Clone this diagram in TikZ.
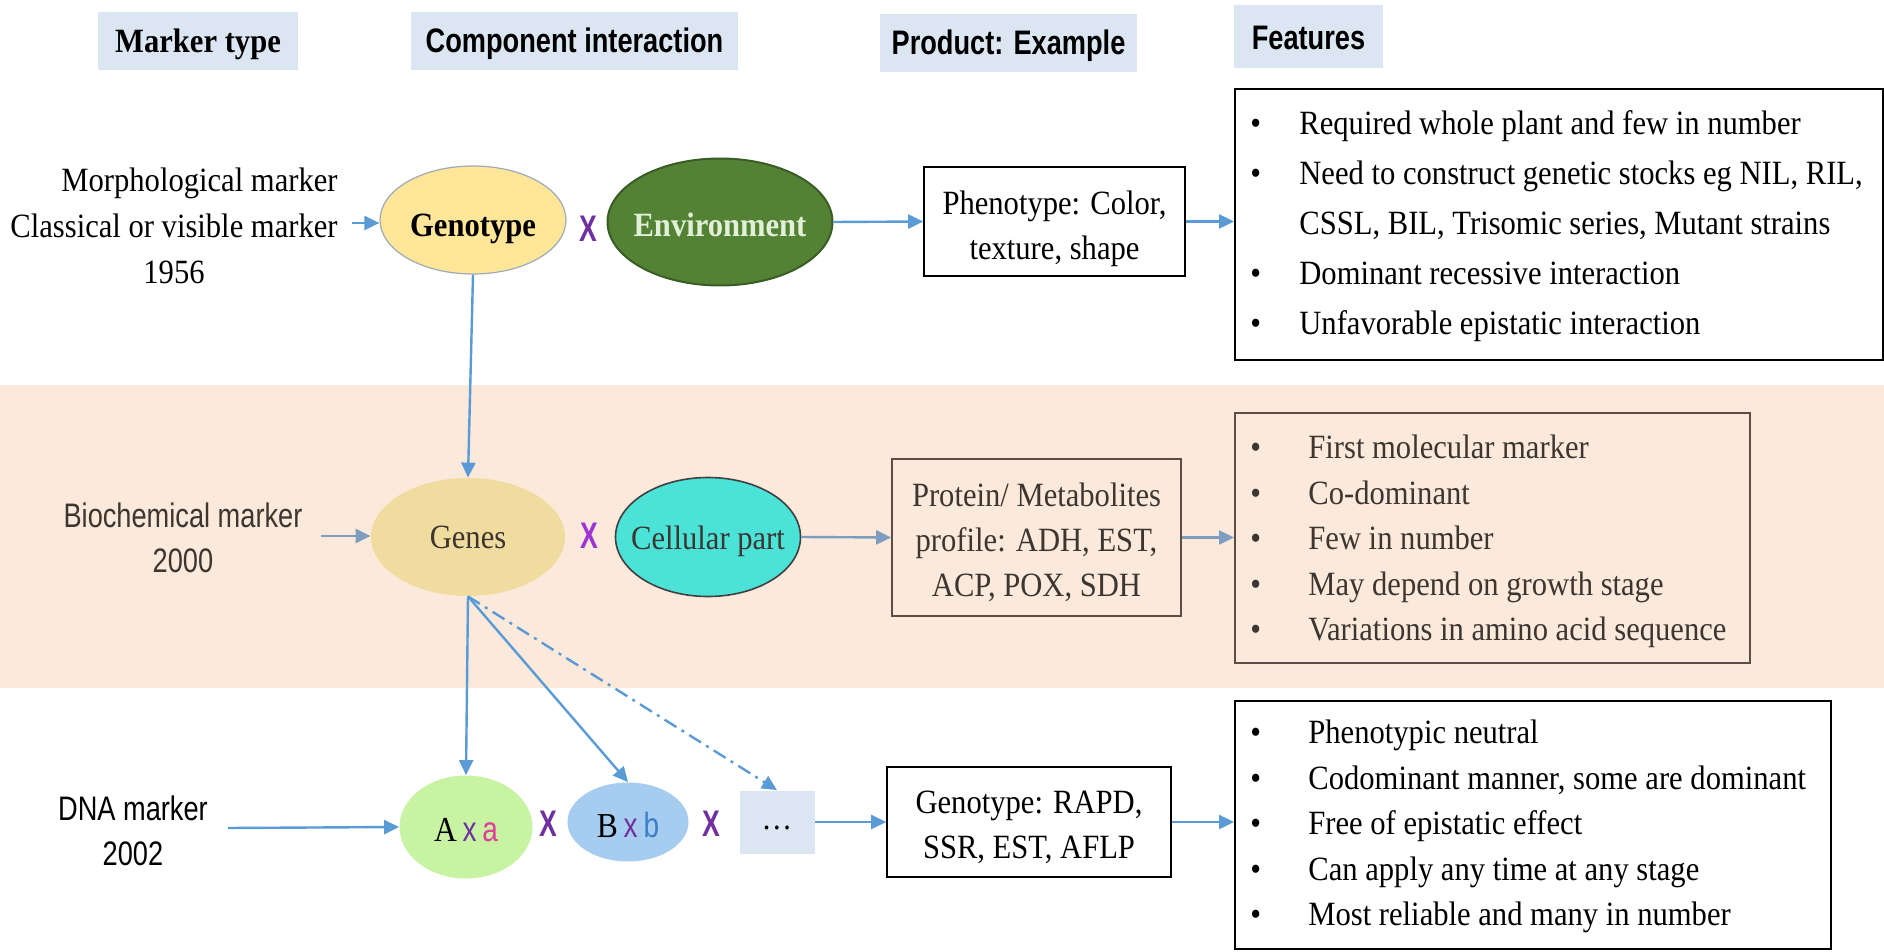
\documentclass[tikz,border=0pt]{standalone}
\usepackage{fontspec}
\setmainfont{Liberation Serif}[FakeStretch=0.9]
\newfontfamily\sansf{Liberation Sans}[FakeStretch=0.8]
\newfontfamily\xsans{Liberation Sans}[FakeStretch=0.72]
\usetikzlibrary{shapes.geometric,arrows.meta}
\definecolor{hdrblue}{HTML}{DCE6F2}
\definecolor{bandc}{HTML}{FBE9DB}
\definecolor{arrblue}{HTML}{5B9BD5}
\definecolor{arrgray}{HTML}{7F9DBF}
\definecolor{genoY}{HTML}{FFE699}
\definecolor{genoB}{HTML}{9DAAB8}
\definecolor{envG}{HTML}{548235}
\definecolor{envD}{HTML}{3A5C25}
\definecolor{envT}{HTML}{E2F0D9}
\definecolor{genesY}{HTML}{F0DC9E}
\definecolor{cellC}{HTML}{4BE3D8}
\definecolor{cellD}{HTML}{404040}
\definecolor{axaG}{HTML}{C8F3A3}
\definecolor{bxbB}{HTML}{A6CDEF}
\definecolor{xpurple}{HTML}{7030A0}
\definecolor{xpurpleB}{HTML}{9E32D2}
\definecolor{amag}{HTML}{E03C9A}
\definecolor{bblue}{HTML}{3A7FC8}
\definecolor{rowtwo}{HTML}{3D3530}
\definecolor{protB}{HTML}{5E4D45}
\newcommand{\bulA}{\makebox[24.5pt][l]{\textbullet}}
\newcommand{\bulB}{\makebox[29pt][l]{\textbullet}}
% shift contents down visually while keeping the box size
\newcommand{\lowerby}[2]{\raisebox{-#1}[\height][\depth]{#2}}
\begin{document}
\begin{tikzpicture}[x=0.5pt,y=-0.5pt,
  hdr/.style={fill=hdrblue, inner sep=0pt, minimum height=29pt},
  arr/.style={draw=arrblue, line width=1.2pt, -{Triangle[length=7.5pt,width=7pt]}},
  arrg/.style={arr, draw=arrgray},
  ell/.style={ellipse, inner sep=0pt},
  pbox/.style={draw=black, line width=0.8pt, align=center, inner sep=0pt, font=\fontsize{17}{22.5}\selectfont},
  fbox/.style={draw=black, line width=0.9pt, inner sep=0pt, anchor=north west},
  ftext/.style={anchor=west, align=left, inner sep=0pt},
  xmark/.style={text=xpurple, font=\xsans\bfseries\fontsize{18.5}{18.5}\selectfont, inner sep=0pt},
]
\useasboundingbox (0,0) rectangle (1884,952);
\fill[bandc] (0,385) rectangle (1884,688);

% headers
\node[hdr, minimum width=100pt, font=\bfseries\fontsize{17}{17}\selectfont] (h1) at (198,41) {\lowerby{1.5pt}{Marker type}};
\node[hdr, minimum width=163.5pt, font=\sansf\bfseries\fontsize{17}{17}\selectfont] (h2) at (574.5,41) {\lowerby{1.5pt}{Component interaction}};
\node[hdr, minimum width=128.5pt, font=\sansf\bfseries\fontsize{17}{17}\selectfont] (h3) at (1008.5,43) {\lowerby{1.5pt}{Product: Example}};
\node[hdr, minimum width=74.5pt, minimum height=31.5pt, font=\sansf\bfseries\fontsize{17}{17}\selectfont] (h4) at (1308.5,36.5) {\lowerby{0.8pt}{Features}};

% row 1
\node[anchor=east, inner sep=0pt, font=\fontsize{17}{23}\selectfont] (morph) at (338,228)
  {\begin{tabular}{@{}r@{}}Morphological marker\\ Classical or visible marker\\ \multicolumn{1}{@{}c@{}}{1956}\end{tabular}};
\coordinate (morphS) at (352,223);
\node[ell, fill=genoY, draw=genoB, line width=0.6pt, minimum width=93pt, minimum height=54pt,
  font=\bfseries\fontsize{17}{17}\selectfont] (geno) at (473,220) {\makebox[0pt]{\lowerby{4.5pt}{Genotype}}};
\node[xmark] (x1) at (588,229) {X};
\node[ell, fill=envG, draw=envD, line width=1pt, minimum width=112.5pt, minimum height=63.5pt,
  text=envT, font=\bfseries\fontsize{17}{17}\selectfont] (env) at (720,222) {\makebox[0pt]{\lowerby{1.5pt}{Environment}}};
\node[pbox, minimum width=130.5pt, minimum height=54.5pt] (pheno) at (1054.5,221.5)
  {\lowerby{3.5pt}{\begin{tabular}{@{}c@{}}Phenotype: Color,\\texture, shape\end{tabular}}};
\node[fbox, minimum width=324pt, minimum height=135.5pt] (f1) at (1234,88) {};
\node[ftext, font=\fontsize{17}{25}\selectfont] (f1t) at ([xshift=8pt,yshift=-0.8pt]f1.west)
  {\bulA Required whole plant and few in number\\
   \bulA Need to construct genetic stocks eg NIL, RIL,\\
   \hspace*{24.5pt}CSSL, BIL, Trisomic series, Mutant strains\\
   \bulA Dominant recessive interaction\\
   \bulA Unfavorable epistatic interaction};

% row 2
\node[font=\sansf\fontsize{17}{22.5}\selectfont, text=rowtwo, align=center, inner sep=0pt] (bio) at (183,538) {Biochemical marker\\2000};
\coordinate (bioS) at (321,536);
\node[ell, fill=genesY, minimum width=97pt, minimum height=59pt, text=rowtwo,
  font=\fontsize{17}{17}\selectfont] (genes) at (468,537) {\makebox[0pt]{Genes}};
\node[xmark, text=xpurpleB] (x2) at (589,536) {X};
\node[ell, fill=cellC, draw=cellD, line width=0.8pt, minimum width=92.5pt, minimum height=59.5pt, text=rowtwo,
  font=\fontsize{17}{17}\selectfont] (cell) at (708,537) {\makebox[0pt]{\lowerby{2pt}{Cellular part}}};
\node[pbox, draw=protB, text=rowtwo, minimum width=144.5pt, minimum height=78.5pt] (prot) at (1036.5,537.5)
  {\lowerby{2.5pt}{\begin{tabular}{@{}c@{}}Protein/ Metabolites\\profile: ADH, EST,\\ACP, POX, SDH\end{tabular}}};
\node[fbox, draw=protB, minimum width=257.5pt, minimum height=125pt] (f2) at (1234,412) {};
\node[ftext, text=rowtwo, font=\fontsize{17}{22.8}\selectfont] (f2t) at ([xshift=8pt,yshift=-1.8pt]f2.west)
  {\bulB First molecular marker\\
   \bulB Co-dominant\\
   \bulB Few in number\\
   \bulB May depend on growth stage\\
   \bulB Variations in amino acid sequence};

% row 3
\node[font=\sansf\fontsize{17}{22.5}\selectfont, align=center, inner sep=0pt] (dna) at (133,831) {DNA marker\\2002};
\coordinate (dnaS) at (228,828);
\node[ell, fill=axaG, minimum width=66.5pt, minimum height=51.5pt, font=\fontsize{17.5}{17.5}\selectfont] (axa) at (466,827)
  {\makebox[0pt]{\lowerby{1.5pt}{A\,{\sansf\color{xpurple}x}\,{\sansf\color{amag}a}}}};
\node[xmark] (x3) at (548,824) {X};
\node[ell, fill=bxbB, minimum width=60.5pt, minimum height=39.5pt, font=\fontsize{17.5}{17.5}\selectfont] (bxb) at (628,822)
  {\makebox[0pt]{\lowerby{1.5pt}{B\,{\sansf\color{xpurple}x}\,{\sansf\color{bblue}b}}}};
\node[xmark] (x4) at (711,824) {X};
\node[fill=hdrblue, minimum width=37.5pt, minimum height=31.5pt, inner sep=0pt, font=\fontsize{17}{17}\selectfont] (dots) at (777,822) {\lowerby{3pt}{\dots}};
\node[pbox, minimum width=142pt, minimum height=55pt] (gbox) at (1029,822)
  {\lowerby{2.5pt}{\begin{tabular}{@{}c@{}}Genotype: RAPD,\\SSR, EST, AFLP\end{tabular}}};
\node[fbox, minimum width=298pt, minimum height=124pt] (f3) at (1234,700) {};
\node[ftext, font=\fontsize{17}{22.75}\selectfont] (f3t) at ([xshift=8pt,yshift=-0.8pt]f3.west)
  {\bulB Phenotypic neutral\\
   \bulB Codominant manner, some are dominant\\
   \bulB Free of epistatic effect\\
   \bulB Can apply any time at any stage\\
   \bulB Most reliable and many in number};

% connectors
\draw[arr] (morphS) -- (morphS -| geno.west);
\draw[arr] (env.east) -- (pheno.west);
\draw[arr] (pheno.east) -- (pheno.east -| f1.west);
\draw[arr] (geno.south) -- (genes.north);
\draw[arrg] (bioS) -- (bioS -| genes.west);
\draw[arrg] (cell.east) -- (prot.west);
\draw[arrg] (prot.east) -- (prot.east -| f2.west);
\draw[arr] (genes.south) -- (axa.north);
\draw[arr] (genes.south) -- (bxb.north);
\draw[arr, dash pattern=on 7pt off 3pt on 1.5pt off 3pt] (genes.south) -- (dots.north);
\draw[arr] (dnaS) -- (axa.west);
\draw[arr] (dots.east) -- (gbox.west);
\draw[arr] (gbox.east) -- (gbox.east -| f3.west);
\end{tikzpicture}
\end{document}
